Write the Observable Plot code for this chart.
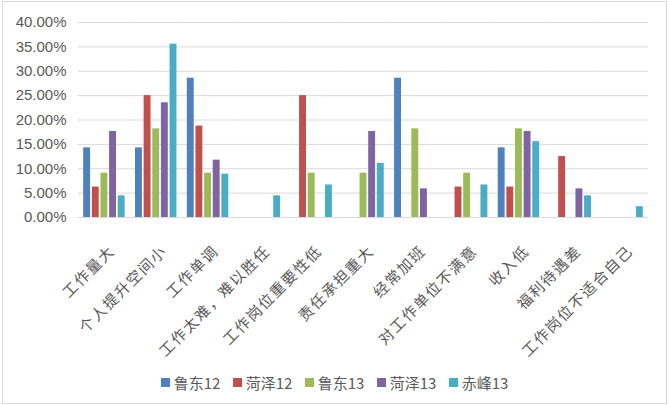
<!DOCTYPE html>
<html>
<head>
<meta charset="utf-8">
<script src="https://cdn.jsdelivr.net/npm/d3@7"></script>
<script src="https://cdn.jsdelivr.net/npm/@observablehq/plot@0.6"></script>
<style>
  html, body { margin: 0; padding: 0; background: #fff; }
  #wrap { position: relative; width: 669px; height: 405px; font-family: "Noto Sans CJK SC", "Liberation Sans", sans-serif; }
  #border { position: absolute; left: 2px; top: 1px; width: 665px; height: 403px; border: 1px solid #d9d9d9; box-sizing: border-box; }
  #chart { position: absolute; left: 0; top: 0; }
  #chart g[aria-label="fx-axis tick label"] text { letter-spacing: 1.6px; }
  #legend { position: absolute; left: 0; right: 0; top: 372px; display: flex; justify-content: center; font-size: 15px; color: #595959; }
  .item { display: flex; align-items: center; width: 72px; }
  .item:last-child { width: auto; }
  .sw { width: 9px; height: 9px; margin-right: 4px; }
</style>
</head>
<body>
<div id="wrap"><div id="border"></div><div id="chart"></div><div id="legend"></div></div>
<script>
const categories = ["工作量大", "个人提升空间小", "工作单调", "工作太难，难以胜任", "工作岗位重要性低", "责任承担重大", "经常加班", "对工作单位不满意", "收入低", "福利待遇差", "工作岗位不适合自己"];
const series = ["鲁东12", "菏泽12", "鲁东13", "菏泽13", "赤峰13"];
const ludong12 = [0.1429, 0.1429, 0.2857, 0, 0, 0, 0.2857, 0, 0.1429, 0, 0];
const heze12   = [0.0625, 0.25, 0.1875, 0, 0.25, 0, 0, 0.0625, 0.0625, 0.125, 0];
const ludong13 = [0.0909, 0.1818, 0.0909, 0, 0.0909, 0.0909, 0.1818, 0.0909, 0.1818, 0, 0];
const heze13   = [0.1765, 0.2353, 0.1176, 0, 0, 0.1765, 0.0588, 0, 0.1765, 0.0588, 0];
const chifeng13 = [0.0444, 0.3556, 0.0889, 0.0444, 0.0667, 0.1111, 0, 0.0667, 0.1556, 0.0444, 0.0222];
const yTicks = [0, 0.05, 0.10, 0.15, 0.20, 0.25, 0.30, 0.35, 0.40];
const colors = ["#4F81BD", "#C0504D", "#9BBB59", "#8064A2", "#4BACC6"];

const seriesValues = [ludong12, heze12, ludong13, heze13, chifeng13];
const data = [];
categories.forEach((c, i) => {
  series.forEach((s, j) => {
    data.push({cat: c, series: s, value: seriesValues[j][i]});
  });
});

const font = '"Noto Sans CJK SC", "Liberation Sans", sans-serif';
const chart = Plot.plot({
  width: 669,
  height: 365,
  marginLeft: 78,
  marginRight: 21,
  marginTop: 22,
  marginBottom: 148,
  style: {fontFamily: font, fontSize: "14px", color: "#595959", background: "transparent"},
  fx: {domain: categories, paddingInner: 0, paddingOuter: 0, round: false, label: null},
  x: {domain: series, paddingInner: 0.2, paddingOuter: 0.6, round: false, axis: null},
  y: {domain: [0, 0.4], label: null},
  color: {domain: series, range: colors},
  marks: [
    Plot.gridY(yTicks, {stroke: "#d9d9d9", strokeOpacity: 1, strokeWidth: 1}),
    Plot.axisY(yTicks, {tickSize: 0, tickPadding: 12, tickFormat: d3.format(".2%"), label: null, fill: "#595959", fontSize: 15, fontFamily: "Liberation Sans"}),
    Plot.axisFx({anchor: "bottom", tickSize: 0, tickRotate: -45, tickPadding: 31, dx: 8, label: null, fill: "#595959", fontSize: 15}),
    Plot.barY(data, {fx: "cat", x: "series", y: "value", fill: "series"})
  ]
});
document.getElementById("chart").appendChild(chart);

const legend = document.getElementById("legend");
series.forEach((s, j) => {
  const it = document.createElement("div");
  it.className = "item";
  const sw = document.createElement("span");
  sw.className = "sw";
  sw.style.background = colors[j];
  const t = document.createElement("span");
  t.textContent = s;
  it.appendChild(sw); it.appendChild(t);
  legend.appendChild(it);
});
</script>
</body>
</html>
